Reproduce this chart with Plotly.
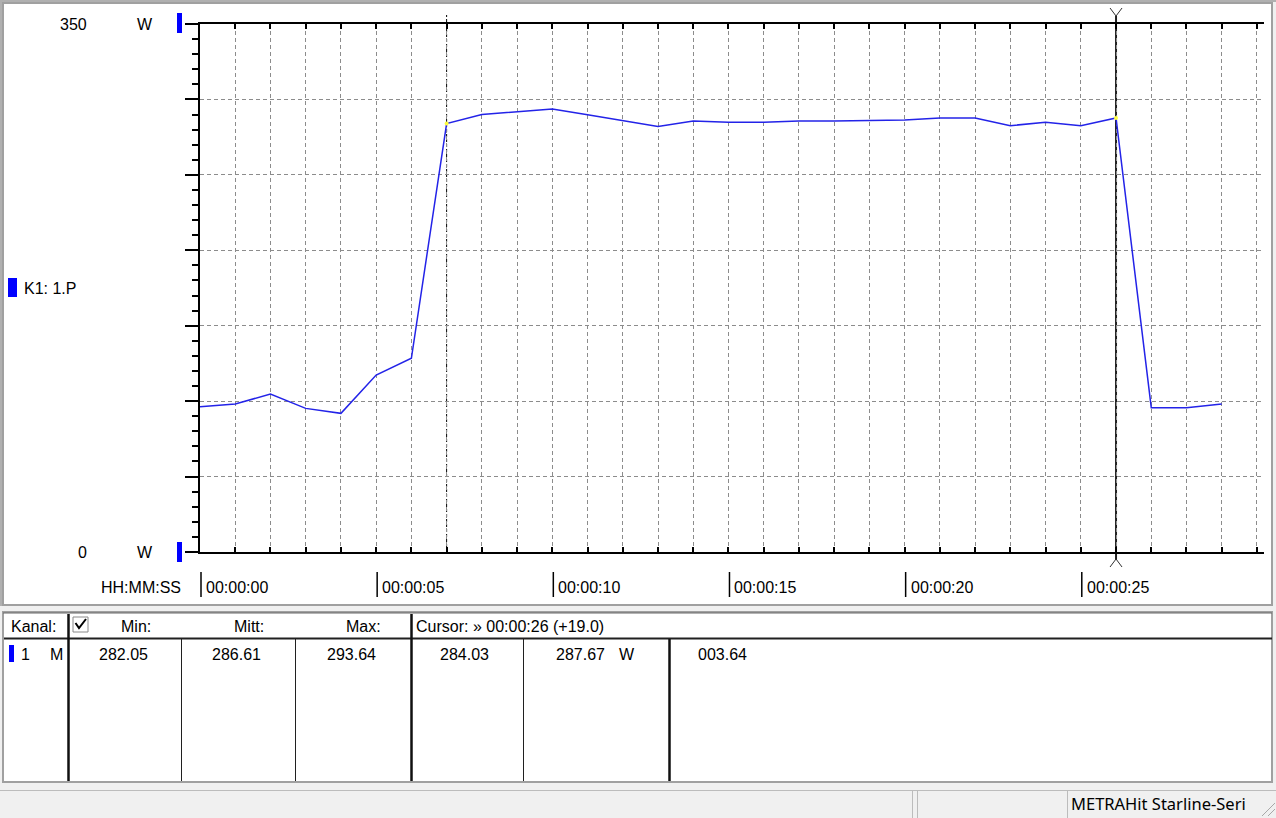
import plotly.graph_objects as go

W, H = 1276, 818

# ---------------- data ----------------
time_s = list(range(30))
power_w = [96.3, 98.1, 104.7, 95.2, 91.9, 117.3, 128.4, 284.03, 290.0, 291.6,
           293.64, 289.9, 285.9, 282.05, 285.7, 284.8, 284.8, 285.7, 285.7, 285.8,
           286.4, 287.7, 287.7, 282.6, 284.9, 282.6, 287.67, 95.7, 95.7, 98.1]
cursor_times = [7, 26]
x_max = 30.2
y_range = [0, 350]
y_unit = "W"
channel_label = "K1: 1.P"
time_axis_title = "HH:MM:SS"
time_label_times = [0, 5, 10, 15, 20, 25]
time_label_text = ["00:00:00", "00:00:05", "00:00:10", "00:00:15", "00:00:20", "00:00:25"]

table_header = ["Kanal:", "Min:", "Mitt:", "Max:", "Cursor: \u00bb 00:00:26 (+19.0)"]
row_channel = ["1", "M"]
row_stats = ["282.05", "286.61", "293.64"]
status_text = "METRAHit Starline-Seri"

FONT = "Liberation Sans, Arial, sans-serif"
BLUE = "#0000ff"


def fx(x):
    return x / W


def fy(y):
    return 1 - y / H


shapes = []
annots = []


def rect(x0, y0, x1, y1, fill="rgba(0,0,0,0)", line=None, lw=0, layer="below"):
    shapes.append(dict(type="rect", xref="paper", yref="paper",
                       x0=fx(x0), x1=fx(x1), y0=fy(y1), y1=fy(y0),
                       fillcolor=fill,
                       line=dict(color=line or "rgba(0,0,0,0)", width=lw if line else 0),
                       layer=layer))


def seg(x0, y0, x1, y1, color="black", lw=1, layer="above", dash=None):
    d = dict(color=color, width=lw)
    if dash:
        d["dash"] = dash
    shapes.append(dict(type="line", xref="paper", yref="paper",
                       x0=fx(x0), x1=fx(x1), y0=fy(y0), y1=fy(y1),
                       line=d, layer=layer))


def text(x, y, s, anchor="left", size=16, family=FONT, color="black"):
    annots.append(dict(xref="paper", yref="paper", x=fx(x), y=fy(y), text=s,
                       showarrow=False, xanchor=anchor, yanchor="middle",
                       font=dict(family=family, size=size, color=color)))


# ---------------- window chrome ----------------
rect(3, 3, 1272, 605, fill="white", line="#a0a0a0", lw=2)
seg(0, 1, W, 1, color="#b0b0b0", lw=2, layer="below")
seg(1, 0, 1, 606, color="#b0b0b0", lw=2, layer="below")

# table panel
rect(3, 612, 1272, 782, fill="white", line="#a0a0a0", lw=2)
seg(3, 613, 1272, 613, color="#696969", lw=1)

# status bar
seg(0, 790.5, W, 790.5, color="#bcbcbc", lw=1)
for xs in (912.5, 917.5, 1067.5):
    seg(xs, 790, xs, 818, color="#bcbcbc", lw=1)
seg(1262, 816, 1275, 803, color="#a8a8a8", lw=1)
seg(1268, 816, 1275, 809, color="#a8a8a8", lw=1)
text(1069, 803, status_text, size=16.5, family="Noto Sans, sans-serif")

# ---------------- chart labels ----------------
annots.append(dict(xref="paper", yref="y", x=fx(73), y=y_range[1], text=str(y_range[1]),
                   showarrow=False, xanchor="center", yanchor="middle",
                   font=dict(family=FONT, size=16, color="black")))
annots.append(dict(xref="paper", yref="y", x=fx(82), y=y_range[0], text=str(y_range[0]),
                   showarrow=False, xanchor="center", yanchor="middle",
                   font=dict(family=FONT, size=16, color="black")))
for yv in y_range:
    annots.append(dict(xref="paper", yref="y", x=fx(145), y=yv, text=y_unit,
                       showarrow=False, xanchor="center", yanchor="middle",
                       font=dict(family=FONT, size=16, color="black")))
rect(177, 13, 182, 33, fill=BLUE, layer="above")
rect(177, 542, 182, 562, fill=BLUE, layer="above")

rect(8, 278, 17, 297, fill=BLUE, layer="above")
text(22, 288, channel_label)

text(183, 587, time_axis_title, anchor="right")
for t, lab in zip(time_label_times, time_label_text):
    shapes.append(dict(type="line", xref="x", xsizemode="pixel", xanchor=t, x0=1, x1=1,
                       yref="paper", y0=fy(572), y1=fy(597),
                       line=dict(color="black", width=1.5), layer="above"))
    annots.append(dict(xref="x", yref="paper", x=t, y=fy(587), text=lab, xshift=4,
                       showarrow=False, xanchor="left", yanchor="middle",
                       font=dict(family=FONT, size=16, color="black")))

# ---------------- cursors ----------------
ca, cb = cursor_times
shapes.append(dict(type="line", xref="x", x0=ca, x1=ca, yref="paper",
                   y0=fy(552), y1=fy(15), line=dict(color="black", width=1, dash="3px,2px"),
                   layer="between"))
shapes.append(dict(type="line", xref="x", x0=cb, x1=cb, yref="paper",
                   y0=fy(560), y1=fy(16), line=dict(color="#202020", width=2),
                   layer="between"))
for dx in (-6, 6):
    shapes.append(dict(type="line", xref="x", xsizemode="pixel", xanchor=cb, x0=dx, x1=0,
                       yref="paper", y0=fy(8), y1=fy(16),
                       line=dict(color="#303030", width=1), layer="above"))
    shapes.append(dict(type="line", xref="x", xsizemode="pixel", xanchor=cb, x0=dx, x1=0,
                       yref="paper", y0=fy(567), y1=fy(559),
                       line=dict(color="#303030", width=1), layer="above"))

# ---------------- table ----------------
seg(4, 638.5, 1272, 638.5, color="#202020", lw=2)
seg(68.5, 614, 68.5, 781, color="#101010", lw=2.5)
seg(411.5, 614, 411.5, 781, color="#101010", lw=2.5)
seg(669.5, 639, 669.5, 781, color="#101010", lw=2.5)
for xs in (181.5, 295.5, 523.5):
    seg(xs, 639, xs, 781, color="#202020", lw=1)

text(9, 626, table_header[0])
rect(73, 617, 88, 632, fill="white", line="#8a8a8a", lw=1, layer="above")
shapes.append(dict(type="path", xref="paper", yref="paper",
                   path="M {} {} L {} {} L {} {}".format(fx(75.5), fy(623), fx(79), fy(628), fx(86), fy(619)),
                   line=dict(color="black", width=2), layer="above"))
text(136, 626, table_header[1], anchor="center")
text(249, 626, table_header[2], anchor="center")
text(363, 626, table_header[3], anchor="center")
text(414, 626, table_header[4])

rect(9, 645, 14, 662, fill=BLUE, layer="above")
text(19, 654, row_channel[0])
text(57, 654, row_channel[1], anchor="center")
for xc, s in zip((123.5, 236.5, 351), row_stats):
    text(xc, 654, s, anchor="center")
v_a = power_w[time_s.index(ca)]
v_b = power_w[time_s.index(cb)]
text(464, 654, "{:.2f}".format(v_a), anchor="center")
text(580.5, 654, "{:.2f}".format(v_b), anchor="center")
text(626.5, 654, y_unit, anchor="center")
text(722, 654, "{:06.2f}".format(v_b - v_a), anchor="center")

# ---------------- figure ----------------
fig = go.Figure()
fig.add_trace(go.Scatter(x=time_s, y=power_w, mode="lines",
                         line=dict(color="#2323e8", width=1.5),
                         hoverinfo="skip", showlegend=False))
fig.add_trace(go.Scatter(x=cursor_times, y=[v_a, v_b], mode="markers",
                         marker=dict(color="#ffff40", size=4),
                         hoverinfo="skip", showlegend=False))

grid = dict(showgrid=True, gridcolor="#8c8c8c", gridwidth=1, griddash="4px,3px")
fig.update_layout(
    width=W, height=H, autosize=False,
    margin=dict(l=0, r=0, t=0, b=0, pad=0),
    paper_bgcolor="#f0f0f0", plot_bgcolor="rgba(0,0,0,0)",
    showlegend=False,
    xaxis=dict(domain=[fx(200), fx(1264)], range=[0, x_max], showticklabels=False,
               ticks="inside", ticklen=5, tickwidth=1.5, tickcolor="black",
               tick0=0, dtick=1, showline=True, linewidth=2, linecolor="black",
               mirror="ticks", zeroline=False, fixedrange=True, **grid),
    yaxis=dict(domain=[fy(552), fy(24)], range=y_range, showticklabels=False,
               ticks="outside", ticklen=13, tickwidth=2, tickcolor="black",
               tick0=0, dtick=50, showline=True, linewidth=2, linecolor="black",
               mirror=False, zeroline=False, fixedrange=True,
               minor=dict(ticks="outside", ticklen=6, tickwidth=2, tickcolor="black",
                          dtick=10, showgrid=False),
               **grid),
    shapes=shapes,
    annotations=annots,
)

fig.write_html("out.html", config={"displayModeBar": False},
               post_script="document.body.style.margin='0';document.body.style.overflow='hidden';")
